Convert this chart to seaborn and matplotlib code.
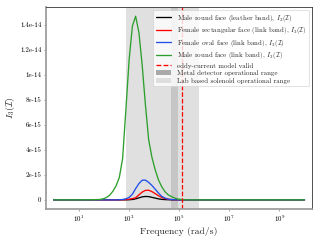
import numpy as np
import pandas as pd
import matplotlib
matplotlib.use('Agg')
import matplotlib.pyplot as plt
import matplotlib.ticker as mticker
from matplotlib.lines import Line2D
import seaborn as sns

# log10 of frequency (rad/s) where the curves were read
log_freq = [0.0, 1.0, 1.5, 1.84, 1.97, 2.10, 2.23, 2.36, 2.49, 2.62, 2.75, 2.88, 3.01,
            3.14, 3.27, 3.40, 3.53, 3.66, 3.79, 3.92, 4.05, 4.18, 4.31, 4.44, 4.57,
            4.70, 4.83, 4.96, 5.09, 5.22, 5.35, 6.0, 7.0, 8.0, 9.0, 10.0]

# values in units of 1e-15
male_leather = [0, 0, 0, 0, 0, 0, 0, 0, 0, 0, 0, 0, 0.01,
                0.03, 0.08, 0.16, 0.24, 0.27, 0.26, 0.20, 0.14, 0.08, 0.04, 0.02, 0.01,
                0, 0, 0, 0, 0, 0, 0, 0, 0, 0, 0]
female_rect = [0, 0, 0, 0, 0, 0, 0, 0, 0, 0, 0.01, 0.02, 0.05,
               0.10, 0.17, 0.40, 0.62, 0.76, 0.77, 0.66, 0.50, 0.33, 0.20, 0.10, 0.05,
               0.02, 0.01, 0, 0, 0, 0, 0, 0, 0, 0, 0]
female_oval = [0, 0, 0, 0, 0, 0, 0, 0, 0, 0.01, 0.03, 0.08, 0.20,
               0.45, 0.90, 1.30, 1.57, 1.58, 1.40, 1.15, 0.85, 0.55, 0.28, 0.14, 0.06,
               0.02, 0.01, 0, 0, 0, 0, 0, 0, 0, 0, 0]
male_link = [0, 0, 0.01, 0.03, 0.08, 0.18, 0.36, 0.68, 1.12, 1.8, 3.3, 7.2, 11.2,
             13.9, 14.7, 13.4, 10.8, 7.6, 4.8, 3.4, 2.4, 1.6, 1.05, 0.65, 0.40,
             0.26, 0.14, 0.06, 0.03, 0.01, 0, 0, 0, 0, 0, 0]

labels = ['Male round face (leather band), $I_2(\\mathcal{I})$',
          'Female rectangular face (link band), $I_3(\\mathcal{I})$',
          'Female oval face (link band), $I_3(\\mathcal{I})$',
          'Male round face (link band), $I_3(\\mathcal{I})$']
colors = ['black', 'red', '#1f4fe8', '#2ca02c']

y_ticks = [0, 2e-15, 4e-15, 6e-15, 8e-15, 1e-14, 1.2e-14, 1.4e-14]
x_ticks = [1e1, 1e3, 1e5, 1e7, 1e9]

eddy_valid = 1.26e5
metal_range = [5.0e4, 9.4e4]
lab_range = [7.6e2, 6.1e5]


def main():
    sns.set_theme(style='ticks')
    plt.rcParams['font.family'] = 'serif'
    plt.rcParams['font.serif'] = ['cmr10', 'DejaVu Serif']
    plt.rcParams['mathtext.fontset'] = 'cm'
    plt.rcParams['axes.formatter.use_mathtext'] = True
    plt.rcParams['font.size'] = 10

    freq = 10.0 ** np.array(log_freq)
    series = [male_leather, female_rect, female_oval, male_link]

    fig = plt.figure(figsize=(6.4, 4.8), dpi=50)
    ax = fig.add_axes([0.144, 0.129, 0.831, 0.842])

    for vals, lab, col in zip(series, labels, colors):
        df = pd.DataFrame({'f': freq, 'I': np.array(vals) * 1e-15})
        sns.lineplot(data=df, x='f', y='I', ax=ax, color=col, label=lab, linewidth=1.9)

    ax.axvline(eddy_valid, color='red', linestyle='--', linewidth=1.8,
               label='eddy-current model valid')
    ax.axvspan(metal_range[0], metal_range[1], color='darkgray', alpha=1.0,
               linewidth=0, label='Metal detector operational range')
    ax.axvspan(lab_range[0], lab_range[1], color='lightgray', alpha=0.7,
               linewidth=0, label='Lab based solenoid operational range')

    ax.set_xscale('log')
    ax.set_xlim(10 ** -0.3, 10 ** 10.3)
    ax.set_ylim(-0.735e-15, 15.44e-15)
    ax.xaxis.set_major_locator(mticker.FixedLocator(x_ticks))
    ax.xaxis.set_major_formatter(mticker.LogFormatterSciNotation())
    ax.xaxis.set_minor_locator(mticker.NullLocator())
    ax.yaxis.set_major_locator(mticker.FixedLocator(y_ticks))
    ax.yaxis.set_major_formatter(mticker.FuncFormatter(lambda v, p: '{:g}'.format(v)))

    ax.set_xlabel('Frequency (rad/s)', fontsize=14)
    ax.set_ylabel('$I_3(\\mathcal{I})$', fontsize=14)

    for s in ['left', 'bottom']:
        ax.spines[s].set_color('#9a9a9a')
        ax.spines[s].set_linewidth(2.5)
    for s in ['top', 'right']:
        ax.spines[s].set_color('#333333')
        ax.spines[s].set_linewidth(1.2)
        ax.spines[s].set_visible(True)
    ax.tick_params(colors='#9a9a9a', labelcolor='black', labelsize=10, length=3)

    leg = ax.legend(loc='upper right', fontsize=10, handlelength=2.2,
                    labelspacing=0.22, borderaxespad=0.4)
    for h in leg.legend_handles:
        if isinstance(h, Line2D):
            h.set_linewidth(1.9)

    fig.savefig('out.png', dpi=50)


if __name__ == '__main__':
    main()
